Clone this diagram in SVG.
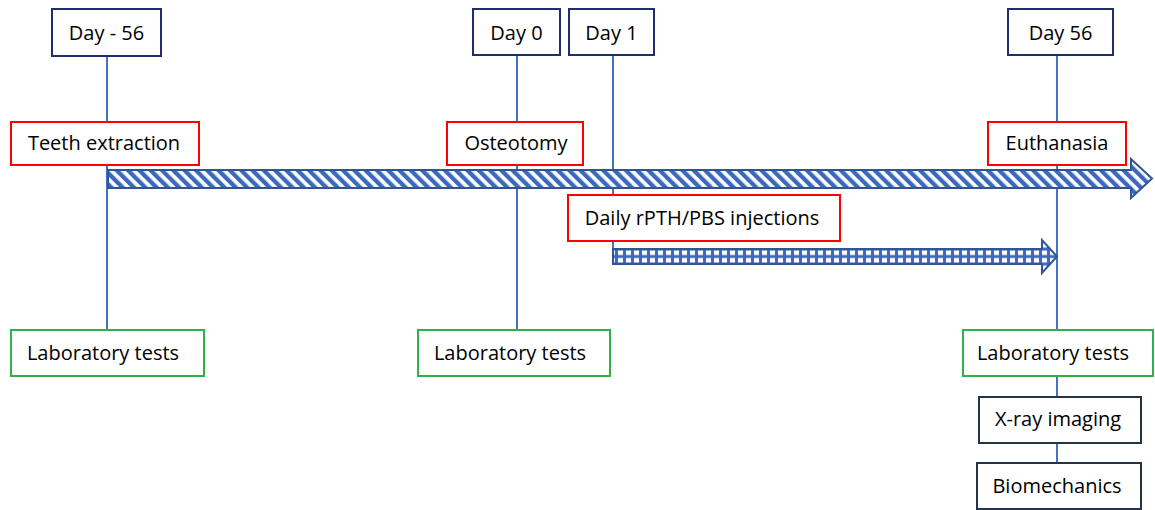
<svg xmlns="http://www.w3.org/2000/svg" width="1155" height="510" viewBox="0 0 1155 510">
<style>
text{font-family:"Open Sans","Noto Sans","Liberation Sans",sans-serif;font-size:20px;fill:#000;text-anchor:middle}
.day{fill:#fff;stroke:#1f2f6b;stroke-width:2}
.evt{fill:#fff;stroke:#ff0000;stroke-width:2}
.lab{fill:#fff;stroke:#2eb34a;stroke-width:2}
.ana{fill:#fff;stroke:#26344a;stroke-width:2}
.conn{stroke:#4472c4;stroke-width:2;fill:none}
.arr{stroke:#2f5597;stroke-width:2;stroke-linejoin:miter}
</style>
<defs>
<pattern id="diag" patternUnits="userSpaceOnUse" width="8" height="8" patternTransform="rotate(-45)">
<rect width="8" height="8" fill="#fff"/>
<rect width="4.3" height="8" fill="#3d68bd"/>
</pattern>
<pattern id="grid" patternUnits="userSpaceOnUse" x="0" y="249" width="8" height="7.5">
<rect width="8" height="7.5" fill="#3d68bd"/>
<rect x="2" y="1.5" width="5" height="4.5" fill="#fff"/>
</pattern>
</defs>
<g id="connectors">
<line class="conn" x1="107" y1="56" x2="107" y2="330"/>
<line class="conn" x1="517" y1="55" x2="517" y2="330"/>
<line class="conn" x1="613" y1="55" x2="613" y2="249"/>
<line class="conn" x1="1057" y1="55" x2="1057" y2="463"/>
</g>
<g id="timeline-arrows">
<path class="arr" fill="url(#diag)" d="M108,170 H1131 V159 L1152,178.5 L1131,198 V188 H108 Z"/>
<path class="arr" fill="url(#grid)" d="M613,249 H1042 V240 L1057,256.5 L1042,273 V264 H613 Z"/>
</g>
<g id="day-minus-56"><rect class="day" x="52" y="9" width="109" height="47"/><text x="106.5" y="40">Day - 56</text></g>
<g id="day-0"><rect class="day" x="473" y="9" width="87" height="46"/><text x="516.5" y="40">Day 0</text></g>
<g id="day-1"><rect class="day" x="569" y="9" width="85" height="46"/><text x="611.5" y="40">Day 1</text></g>
<g id="day-56"><rect class="day" x="1008" y="9" width="105" height="46"/><text x="1060.5" y="40">Day 56</text></g>
<g id="teeth-extraction"><rect class="evt" x="11" y="122" width="188" height="43"/><text x="104" y="150">Teeth extraction</text></g>
<g id="osteotomy"><rect class="evt" x="447" y="122" width="136" height="43"/><text x="516" y="150">Osteotomy</text></g>
<g id="euthanasia"><rect class="evt" x="988" y="122" width="138" height="43"/><text x="1057" y="150">Euthanasia</text></g>
<g id="daily-injections"><rect class="evt" x="568" y="195" width="272" height="46"/><text x="702" y="225">Daily rPTH/PBS injections</text></g>
<g id="lab-tests-1"><rect class="lab" x="11" y="330" width="193" height="46"/><text x="103" y="360">Laboratory tests</text></g>
<g id="lab-tests-2"><rect class="lab" x="418" y="330" width="192" height="46"/><text x="510" y="360">Laboratory tests</text></g>
<g id="lab-tests-3"><rect class="lab" x="963" y="330" width="190" height="46"/><text x="1053" y="360">Laboratory tests</text></g>
<g id="xray-imaging"><rect class="ana" x="979" y="397" width="162" height="46"/><text x="1058" y="426">X-ray imaging</text></g>
<g id="biomechanics"><rect class="ana" x="977" y="463" width="164" height="46"/><text x="1057" y="493">Biomechanics</text></g>
</svg>
